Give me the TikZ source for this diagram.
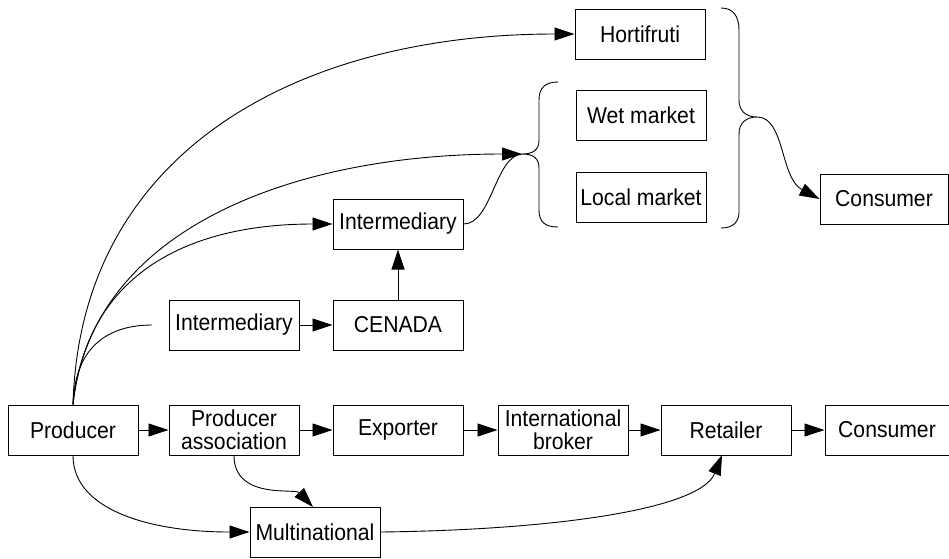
\documentclass[tikz,border=0pt]{standalone}
\usepackage{fontspec}
\setmainfont{Liberation Sans}[FakeStretch=0.92]
\usetikzlibrary{arrows.meta}
\begin{document}
\begin{tikzpicture}[x=1pt,y=-1pt,
  box/.style={draw,line width=1pt,minimum width=130pt,minimum height=50pt,
    inner sep=0pt,align=center,font=\fontsize{23}{23}\selectfont},
  flow/.style={line width=0.9pt,-{Triangle[length=20pt,width=13pt]}},
  link/.style={line width=0.9pt}]
\useasboundingbox (0,0) rectangle (949,558);

% retail outlets and domestic consumer
\node[box] (hort)   at (640,34)  {Hortifruti};
\node[box] (wet)    at (641,115) {Wet market};
\node[box] (local)  at (641,197) {Local market};
\node[box,minimum width=128pt] (cons1) at (884,199) {Consumer};

% intermediaries
\node[box] (int1)   at (398,224) {Intermediary};
\node[box] (int2)   at (234,325) {Intermediary};
\node[box] (cenada) at (398,325) {CENADA};

% export chain
\node[box] (prod)   at (73,430)  {Producer};
\node[box] (passoc) at (234,430) {Producer\\association};
\node[box] (exp)    at (398,430) {Exporter};
\node[box] (broker) at (563,430) {International\\broker};
\node[box] (ret)    at (726,430) {Retailer};
\node[box,minimum width=124pt] (cons2) at (887,430) {Consumer};
\node[box] (multi)  at (315,532) {Multinational};

% brace tips and free end
\coordinate (lb) at (522,154);
\coordinate (rb) at (757,117);
\coordinate (int2in) at (152,325);

% brace grouping wet and local market
\draw[link] (558,82) .. controls (545,82) and (539,88) .. (539,100)
  -- (539,140) .. controls (539,150) and (533,154) .. (lb)
  .. controls (533,154) and (539,158) .. (539,168)
  -- (539,210) .. controls (539,222) and (545,227) .. (558,227);

% brace grouping all domestic outlets
\draw[link] (721,8) .. controls (733,8) and (739,16) .. (739,30)
  -- (739,100) .. controls (739,110) and (745,117) .. (rb)
  .. controls (745,117) and (739,124) .. (739,134)
  -- (739,212) .. controls (739,222) and (733,228) .. (721,228);

% export chain arrows
\draw[flow] (prod) -- (passoc);
\draw[flow] (passoc) -- (exp);
\draw[flow] (exp) -- (broker);
\draw[flow] (broker) -- (ret);
\draw[flow] (ret) -- (cons2);

% domestic arrows
\draw[flow] (int2) -- (cenada);
\draw[flow] (cenada) -- (int1);
\draw[flow] (rb) .. controls (785,117) and (780,178) .. (cons1.west);
\draw[link] (int1.east) .. controls (492,224) and (495,156) .. (lb);

% curves leaving the producer
\draw[flow] (prod.north) .. controls (80,150) and (300,34) .. (hort.west);
\draw[flow] (prod.north) .. controls (92,225) and (300,154) .. (lb);
\draw[flow] (prod.north) .. controls (88,265) and (200,224) .. (int1.west);
\draw[link] (prod.north) .. controls (75,345) and (110,325) .. (int2in);

% curves to and from the multinational
\draw[flow] (prod.south) .. controls (73,510) and (150,532) .. (multi.west);
\draw[flow] (passoc.south) .. controls (234,500) and (295,488) .. (313,507);
\draw[flow] (multi.east) .. controls (550,530) and (700,510) .. (722,455);
\end{tikzpicture}
\end{document}
